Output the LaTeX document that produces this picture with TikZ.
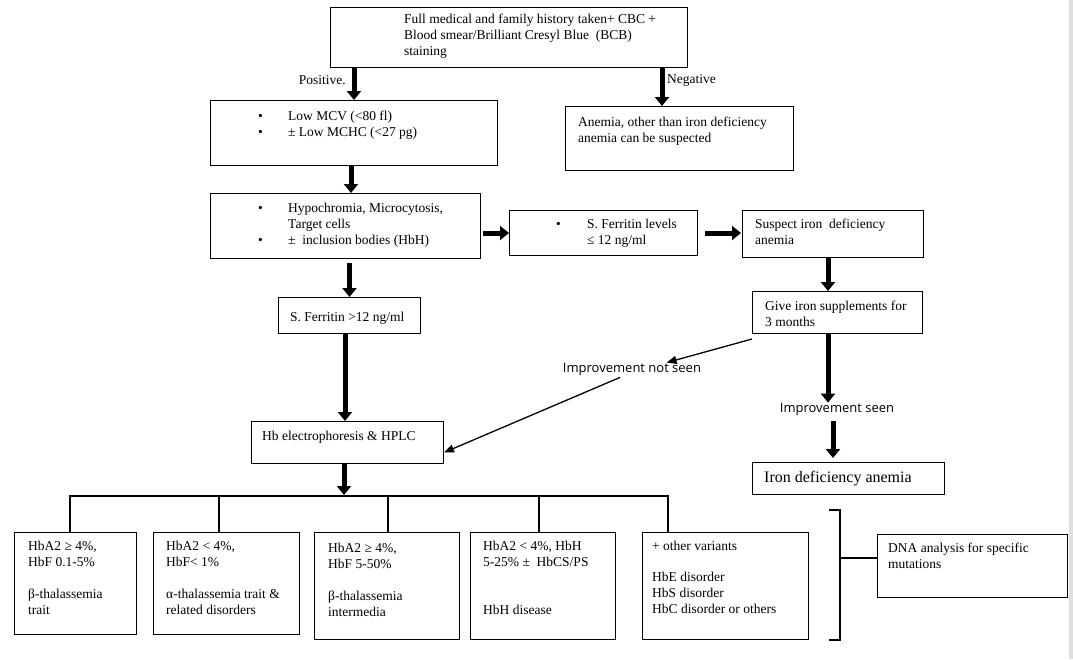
\documentclass[tikz,border=0pt]{standalone}
\usepackage{fontspec}
\setmainfont{Liberation Serif}
\newfontfamily\sansf{Open Sans}
\usetikzlibrary{arrows.meta,calc}
\newcommand\fsz{\fontsize{13.5}{16.2}\selectfont}
\newcommand\bul{\makebox[30pt][l]{•}}
\begin{document}
\begin{tikzpicture}[x=1pt,y=-1pt,
  box/.style={draw, line width=1pt, inner sep=0pt, anchor=north west},
  txt/.style={inner sep=0pt, anchor=north west, align=left, font=\fsz},
  lbl/.style={inner sep=0pt, font=\fsz},
  slbl/.style={inner sep=0pt, font=\sansf\fontsize{13}{15}\selectfont},
  bigarrow/.style={line width=5pt, -{Triangle[length=9pt,width=14pt]}},
  thinarrow/.style={line width=1.3pt, -{Triangle[length=10pt,width=8pt]}},
  bus/.style={line width=2.5pt},
  stub/.style={line width=2pt},
]
\useasboundingbox (0,0) rectangle (1073,659);
\fill[gray!25] (1069,0) rectangle (1073,659);

% boxes
\node[box, minimum width=357pt, minimum height=60pt] (top) at (330,7) {};
\node[box, minimum width=287pt, minimum height=65pt] (mcv) at (210,100) {};
\node[box, minimum width=228pt, minimum height=64pt] (anemia) at (565,106) {};
\node[box, minimum width=270pt, minimum height=65pt] (hypo) at (210,193) {};
\node[box, minimum width=188pt, minimum height=45pt] (ferr) at (509,210) {};
\node[box, minimum width=181pt, minimum height=47pt] (suspect) at (742,210) {};
\node[box, minimum width=170pt, minimum height=42pt] (give) at (752,291) {};
\node[box, minimum width=142pt, minimum height=36pt] (sf12) at (278,297) {};
\node[box, minimum width=192pt, minimum height=42pt] (hb) at (251,421) {};
\node[box, minimum width=192pt, minimum height=32pt] (iron) at (752,462) {};
\node[box, minimum width=122pt, minimum height=102pt] (b1) at (14,532) {};
\node[box, minimum width=146pt, minimum height=102pt] (b2) at (153,532) {};
\node[box, minimum width=145pt, minimum height=107pt] (b3) at (314,532) {};
\node[box, minimum width=145pt, minimum height=107pt] (b4) at (470,532) {};
\node[box, minimum width=166pt, minimum height=107pt] (b5) at (642,532) {};
\node[box, minimum width=190pt, minimum height=63pt] (dna) at (877,534) {};

% texts
\node[txt] (ttop) at (404,11.5) {\strut Full medical and family history taken+ CBC +\\\strut Blood smear/Brilliant Cresyl Blue\ \ (BCB)\\\strut staining};
\node[txt] (tmcv) at (258,108.5) {\strut\bul Low MCV (<80 fl)\\\strut\bul ± Low MCHC (<27 pg)};
\node[txt] (tanemia) at (578,114.5) {\strut Anemia, other than iron deficiency\\\strut anemia can be suspected};
\node[txt] (thypo) at (258,200.5) {\strut\bul Hypochromia, Microcytosis,\\\strut\hspace*{30pt}Target cells\\\strut\bul ±\ \ inclusion bodies (HbH)};
\node[txt] (tferr) at (556,216.5) {\strut\makebox[31pt][l]{•}S. Ferritin levels\\\strut\hspace*{31pt}≤ 12 ng/ml};
\node[txt] (tsuspect) at (755,216.5) {\strut Suspect iron\ \ deficiency\\\strut anemia};
\node[txt] (tgive) at (765,298.5) {\strut Give iron supplements for\\\strut 3 months};
\node[txt] (tsf12) at (290,309.5) {\strut S. Ferritin >12 ng/ml};
\node[txt] (thb) at (262,428.5) {\strut Hb electrophoresis \& HPLC};
\node[lbl, anchor=west, font=\fontsize{16}{19}\selectfont] (tiron) at (764,479) {Iron deficiency anemia};
\node[txt] (tb1) at (28,538.5) {\strut HbA2 ≥ 4\%,\\\strut HbF 0.1-5\%\\\strut\\\strut β-thalassemia\\\strut trait};
\node[txt] (tb2) at (166,538.5) {\strut HbA2 < 4\%,\\\strut HbF< 1\%\\\strut\\\strut α-thalassemia trait \&\\\strut related disorders};
\node[txt] (tb3) at (328,540.5) {\strut HbA2 ≥ 4\%,\\\strut HbF 5-50\%\\\strut\\\strut β-thalassemia\\\strut intermedia};
\node[txt] (tb4) at (483,538.5) {\strut HbA2 < 4\%, HbH\\\strut 5-25\% ±\ \ HbCS/PS\\\strut\\\strut\\\strut HbH disease};
\node[txt, font=\fontsize{13.5}{15.6}\selectfont] (tb5) at (652,539.5) {\strut + other variants\\\strut\\\strut HbE disorder\\\strut HbS disorder\\\strut HbC disorder or others};
\node[txt] (tdna) at (888,540.5) {\strut DNA analysis for specific\\\strut mutations};

% labels
\node[lbl, anchor=east] (pos) at (346,80) {Positive.};
\node[lbl, anchor=west] (neg) at (667,80) {Negative};
\node[slbl] (notseen) at (632,369) {Improvement not seen};
\node[slbl] (seen) at (837,409) {Improvement seen};

% helper coordinates
\coordinate (xneg) at (662,0);
\coordinate (x351) at (351,0);
\coordinate (y233) at (0,233);
\coordinate (x828) at (828,0);
\coordinate (x345) at (345,0);
\coordinate (x833) at (833,0);
\coordinate (x344) at (344,0);
\coordinate (busL) at (70,496);
\coordinate (busR) at (668,496);
\coordinate (busH) at (344,495);

% thick arrows
\draw[bigarrow] (top.south -| mcv.north) -- (mcv.north);
\draw[bigarrow] (top.south -| xneg) -- (anemia.north -| xneg);
\draw[bigarrow] (mcv.south -| x351) -- (hypo.north -| x351);
\draw[bigarrow, shorten <=2pt] (hypo.east |- y233) -- (ferr.west |- y233);
\draw[bigarrow, shorten <=7pt, shorten >=1pt] (ferr.east |- y233) -- (suspect.west |- y233);
\draw[bigarrow] (suspect.south -| x828) -- (give.north -| x828);
\draw[bigarrow, shorten <=4pt] (hypo.south -| sf12.north) -- (sf12.north);
\draw[bigarrow] (sf12.south -| x345) -- (hb.north -| x345);
\draw[bigarrow] (give.south -| x828) -- (seen.north -| x828);
\draw[bigarrow, shorten <=6pt, shorten >=4pt] (seen.south -| x833) -- (iron.north -| x833);
\draw[bigarrow] (hb.south -| x344) -- (busH);

% thin arrows
\draw[thinarrow] ([yshift=-5pt]give.south west) -- ($(notseen.north)!0.5!(notseen.north east)$);
\draw[thinarrow] ([xshift=-12pt,yshift=-2pt]notseen.south) -- ([yshift=-10pt]hb.east);

% bus and stubs
\draw[bus] ([xshift=-1pt]busL) -- ([xshift=1pt]busR);
\draw[stub] (busL) -- (b1.north -| busL);
\draw[stub] (busL -| 219,0) -- (b2.north -| 219,0);
\draw[stub] (busL -| 388,0) -- (b3.north -| 388,0);
\draw[stub] (busL -| 539,0) -- (b4.north -| 539,0);
\draw[stub] (busR) -- (b5.north -| busR);

% bracket
\coordinate (brT) at (829,510);
\coordinate (brB) at (829,640);
\coordinate (brM) at (840,558);
\draw[line width=2pt] (brT) -- (brT -| brM) -- (brB -| brM) -- (brB);
\draw[line width=2pt] (brM) -- (dna.west |- brM);
\end{tikzpicture}
\end{document}
